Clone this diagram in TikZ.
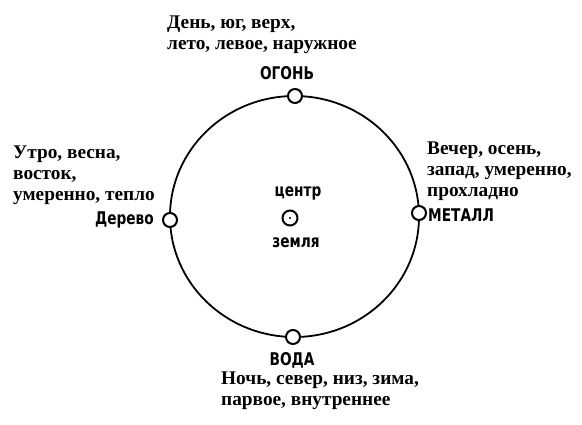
\documentclass[tikz,border=0pt]{standalone}
\usepackage{fontspec}
\setmainfont{Liberation Serif}
\newfontfamily\handfont[FakeStretch=0.87]{DejaVu Sans Condensed}
\begin{document}
\begin{tikzpicture}[x=1pt,y=-1pt,
  desc/.style={font=\bfseries\fontsize{19.3}{21}\selectfont, align=left, inner sep=0pt, anchor=north west},
  hand/.style={font=\handfont\bfseries\fontsize{17.5}{17.5}\selectfont, inner sep=0pt},
  dot/.style={circle, draw, line width=2pt, fill=white, minimum size=14pt, inner sep=0pt}]
\useasboundingbox (0,0) rectangle (582,424);
\draw[line width=1.8pt] (294.5,216.5) ellipse [x radius=124.5pt, y radius=120.5pt];
\node[dot] (fire) at (295,96) {};
\node[dot] (wood) at (170,220) {};
\node[dot] (metal) at (419,213) {};
\node[dot] (water) at (293,337) {};
\node[dot, minimum size=15pt] (center) at (290,218) {};
\fill (center) circle (1.2pt);
\node[hand] (lfire) at (287,73) {ОГОНЬ};
\node[hand, anchor=east] (lwood) at (154,220) {Дерево};
\node[hand, anchor=west] (lmetal) at (428,215) {МЕТАЛЛ};
\node[hand] (lwater) at (292,360) {ВОДА};
\node[hand] (lcenter) at (298,193) {центр};
\node[hand] (learth) at (296,243) {земля};
\node[desc] (tfire) at (167,16) {День, юг, верх,\\лето, левое, наружное};
\node[desc] (twood) at (13,146) {Утро, весна,\\восток,\\умеренно, тепло};
\node[desc] (tmetal) at (427,142) {Вечер, осень,\\запад, умеренно,\\прохладно};
\node[desc] (twater) at (221,372) {Ночь, север, низ, зима,\\парвое, внутреннее};
\end{tikzpicture}
\end{document}
